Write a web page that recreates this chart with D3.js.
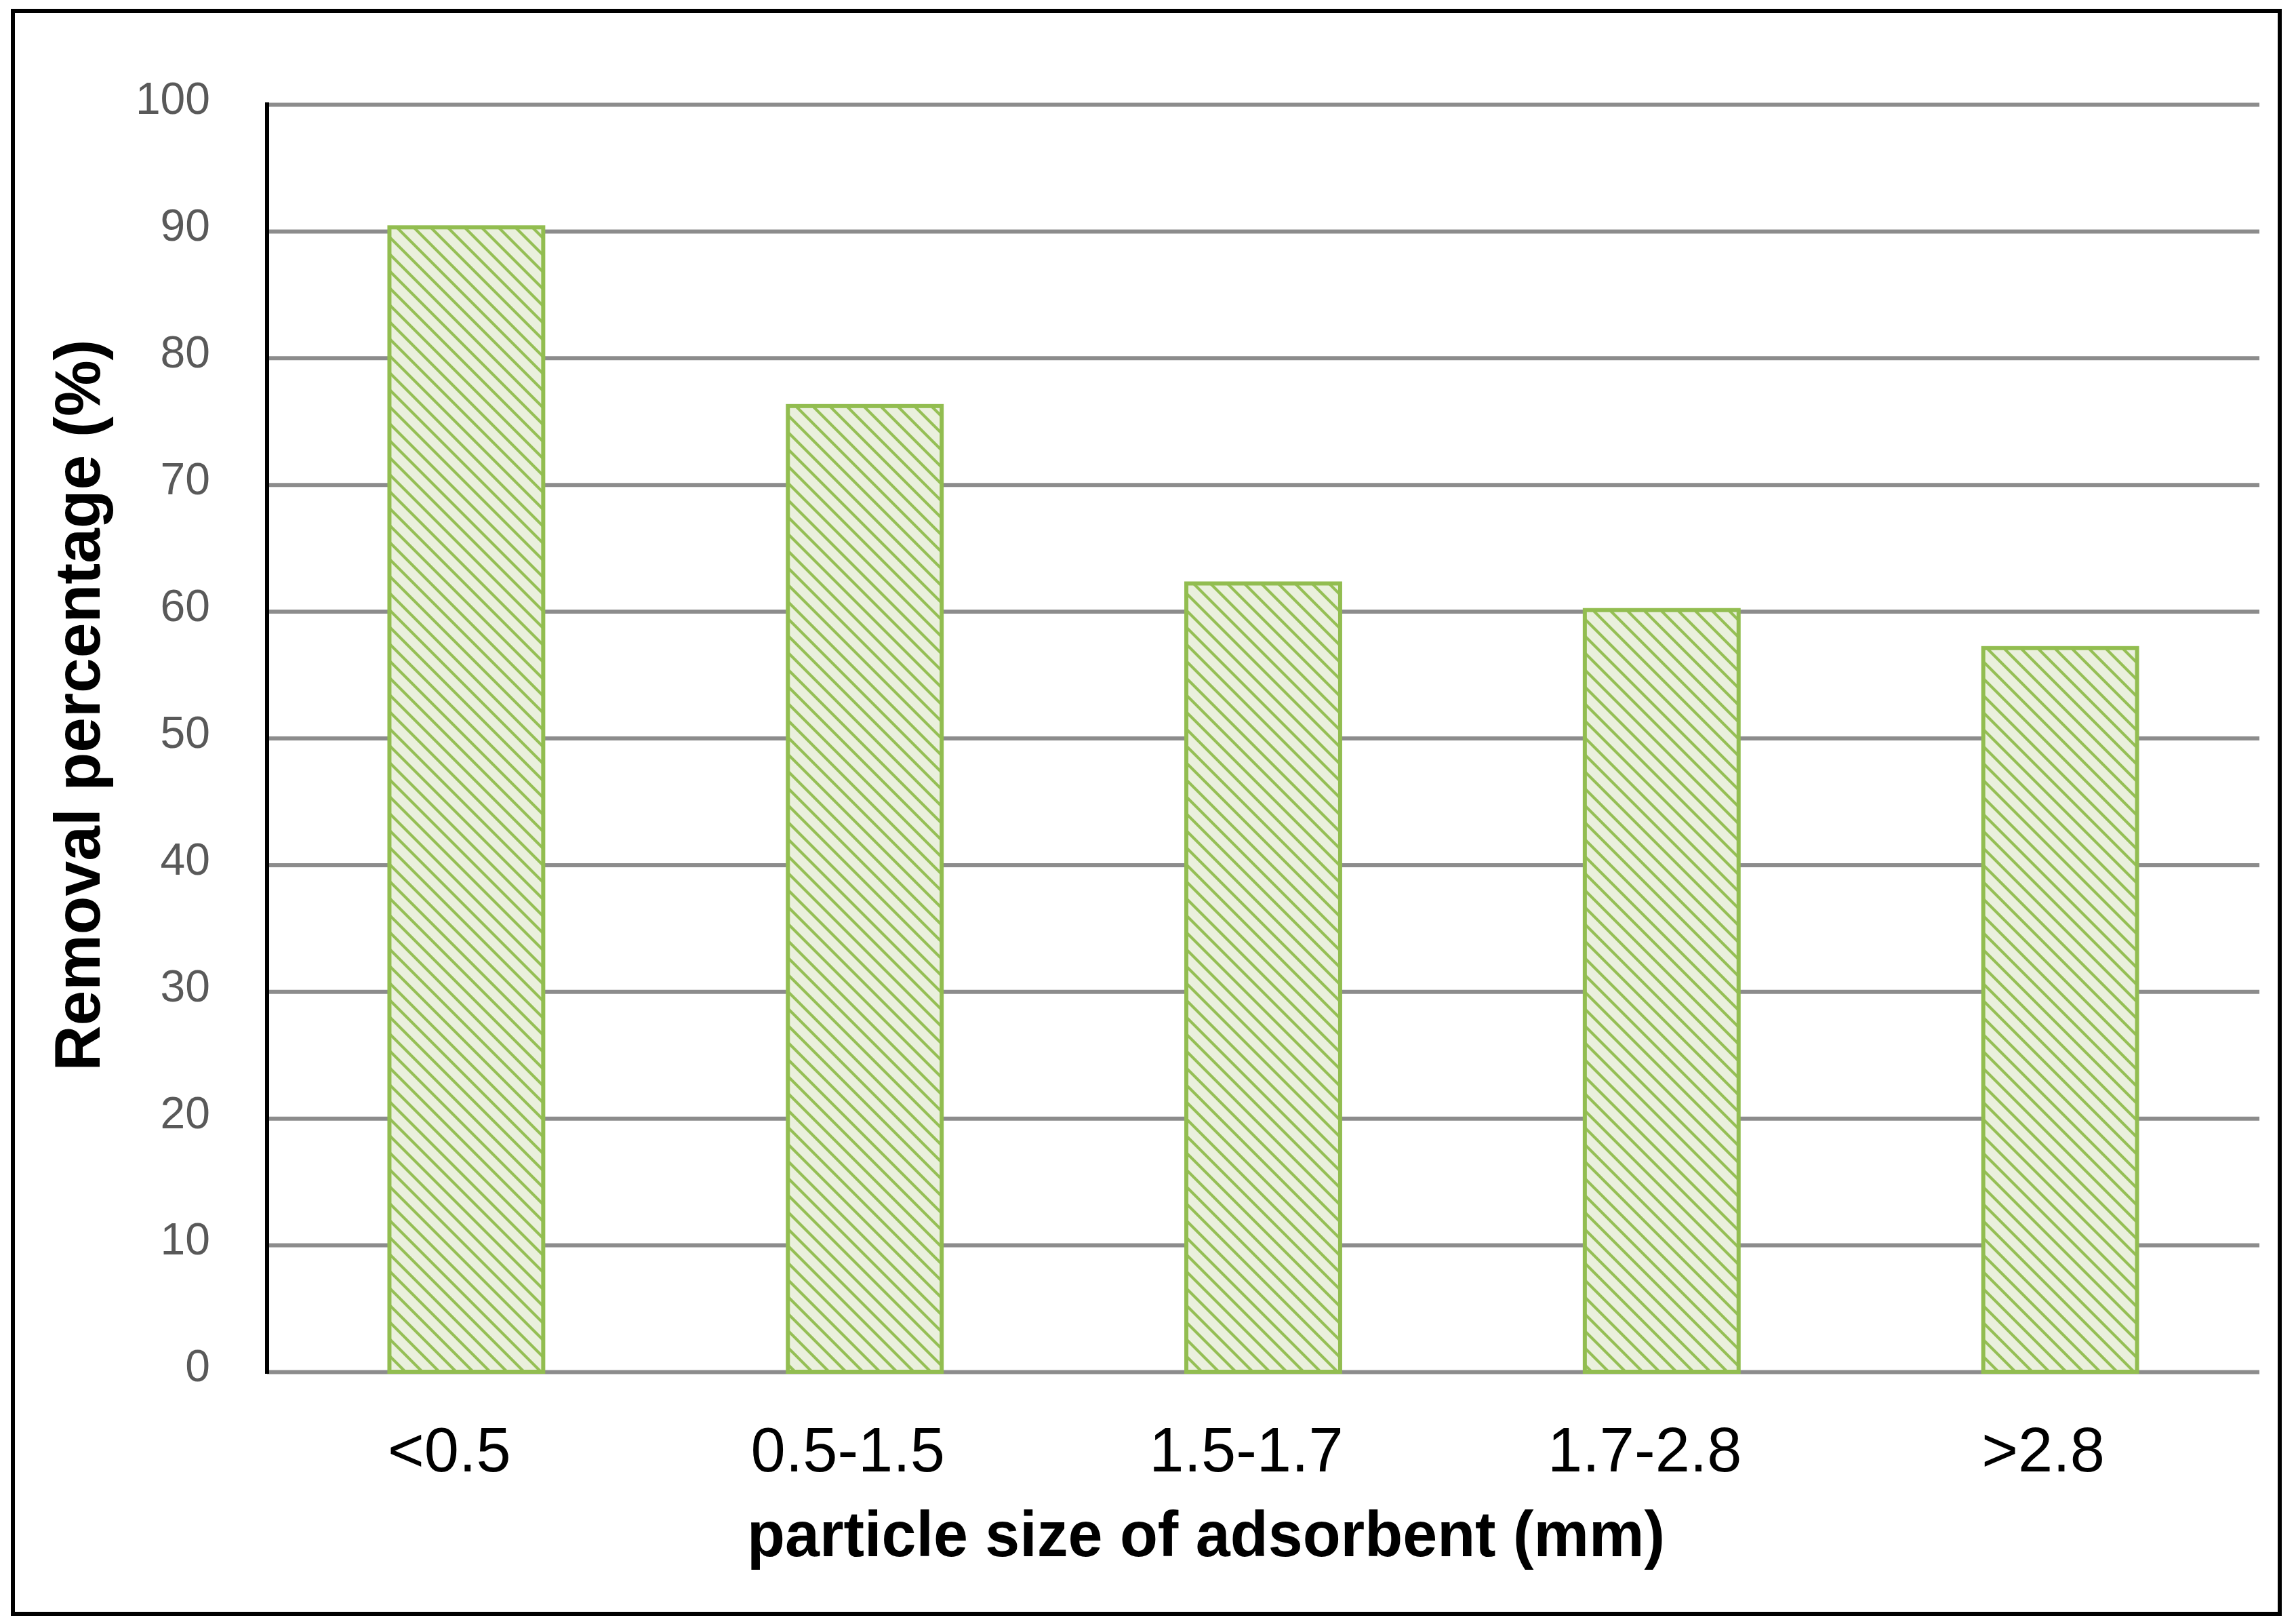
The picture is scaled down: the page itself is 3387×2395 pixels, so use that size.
<!DOCTYPE html>
<html>
<head>
<meta charset="utf-8">
<script src="https://cdn.jsdelivr.net/npm/d3@7"></script>
<style>
  html, body { margin: 0; padding: 0; background: #fff; }
  svg { display: block; }
</style>
</head>
<body>
<div id="chart"></div>
<script>
// data
var categories = ["<0.5", "0.5-1.5", "1.5-1.7", "1.7-2.8", ">2.8"];
var removal = [90.3, 76.2, 62.2, 60.1, 57.1];
var yTicks = [0, 10, 20, 30, 40, 50, 60, 70, 80, 90, 100];
var xTitle = "particle size of adsorbent (mm)";
var yTitle = "Removal percentage (%)";

var W = 3387, H = 2395;
var plot = {left: 394, right: 3333, top: 154, bottom: 2023};

var svg = d3.select("#chart").append("svg")
	.attr("width", W)
	.attr("height", H);

svg.append("rect")
	.attr("width", W).attr("height", H)
	.attr("fill", "#fff");

// hatch for the bars
var defs = svg.append("defs");
var pat = defs.append("pattern")
	.attr("id", "hatch")
	.attr("patternUnits", "userSpaceOnUse")
	.attr("width", 25)
	.attr("height", 25);
pat.append("rect")
	.attr("width", 25).attr("height", 25)
	.attr("fill", "#eaf0dd");
pat.append("path")
	.attr("d", "M-5,-5 L30,30 M-5,20 L5,30 M20,-5 L30,5")
	.attr("stroke", "#95bf55")
	.attr("stroke-width", 4.2);

var gap = 0.614;
var xScale = d3.scaleBand()
	.domain(categories)
	.range([plot.left, plot.right])
	.paddingInner(gap)
	.paddingOuter(gap / 2);

var yScale = d3.scaleLinear()
	.domain([0, 100])
	.range([plot.bottom, plot.top]);

// gridlines
var grid = svg.append("g")
	.attr("transform", "translate(" + plot.left + ",0)")
	.call(d3.axisLeft(yScale)
		.tickValues(yTicks)
		.tickSize(-(plot.right - plot.left))
		.tickFormat(""));
grid.select(".domain").remove();
grid.selectAll(".tick line")
	.attr("stroke", "#8c8c8c")
	.attr("stroke-width", 6);

// y tick labels
var yAxis = svg.append("g")
	.attr("transform", "translate(" + plot.left + ",0)")
	.call(d3.axisLeft(yScale)
		.tickValues(yTicks)
		.tickSize(0)
		.tickPadding(84));
yAxis.select(".domain").remove();
yAxis.selectAll("text")
	.attr("dy", "0.21em")
	.attr("fill", "#595959")
	.style("font-family", "'Liberation Sans', Arial, sans-serif")
	.style("font-size", "66px");

// bars
svg.append("g").selectAll("rect")
	.data(removal)
	.join("rect")
	.attr("x", function(d, i) { return xScale(categories[i]); })
	.attr("y", function(d) { return yScale(d); })
	.attr("width", xScale.bandwidth())
	.attr("height", function(d) { return yScale(0) - yScale(d); })
	.attr("fill", "url(#hatch)")
	.attr("stroke", "#92bd50")
	.attr("stroke-width", 6);

// y axis line
svg.append("line")
	.attr("x1", plot.left).attr("x2", plot.left)
	.attr("y1", yScale(100) - 3).attr("y2", yScale(0) + 3)
	.attr("stroke", "#000")
	.attr("stroke-width", 6);

// x tick labels
var xAxis = svg.append("g")
	.attr("transform", "translate(0," + plot.bottom + ")")
	.call(d3.axisBottom(xScale).tickSize(0).tickPadding(82));
xAxis.select(".domain").remove();
xAxis.selectAll("text")
	.attr("dx", -25)
	.attr("fill", "#000")
	.style("font-family", "'Liberation Sans', Arial, sans-serif")
	.style("font-size", "92px");

// axis titles
svg.append("text")
	.attr("x", 1779)
	.attr("y", 2295)
	.attr("text-anchor", "middle")
	.attr("textLength", 1354)
	.attr("lengthAdjust", "spacingAndGlyphs")
	.attr("fill", "#000")
	.style("font-family", "'Liberation Sans', Arial, sans-serif")
	.style("font-weight", "bold")
	.style("font-size", "94px")
	.text(xTitle);

svg.append("text")
	.attr("transform", "translate(147,1040) rotate(-90)")
	.attr("text-anchor", "middle")
	.attr("textLength", 1079)
	.attr("lengthAdjust", "spacingAndGlyphs")
	.attr("fill", "#000")
	.style("font-family", "'Liberation Sans', Arial, sans-serif")
	.style("font-weight", "bold")
	.style("font-size", "94px")
	.text(yTitle);

// outer frame
svg.append("rect")
	.attr("x", 19).attr("y", 16)
	.attr("width", 3363 - 19).attr("height", 2380 - 16)
	.attr("fill", "none")
	.attr("stroke", "#000")
	.attr("stroke-width", 6);
</script>
</body>
</html>
